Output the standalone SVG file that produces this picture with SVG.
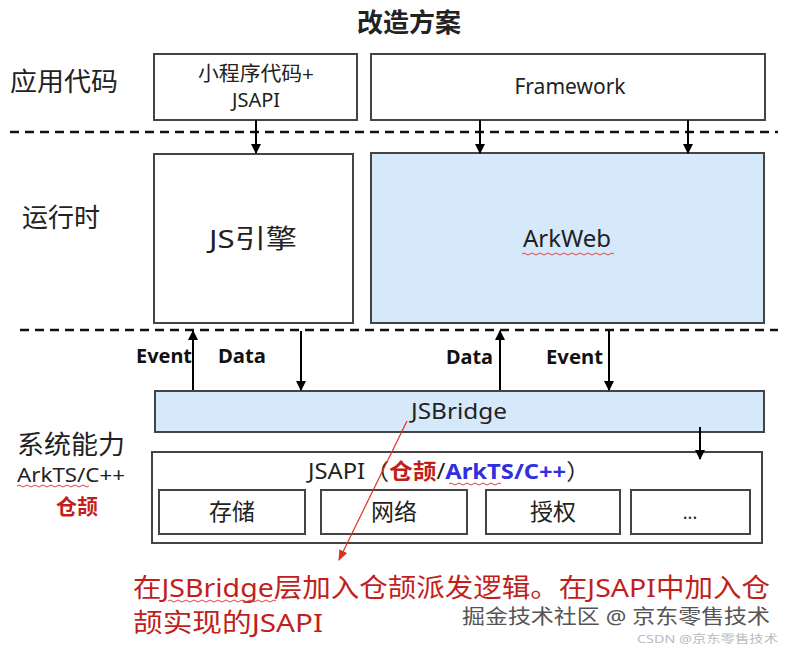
<svg xmlns="http://www.w3.org/2000/svg" width="785" height="647" viewBox="0 0 785 647">
<defs>
<marker id="ah" viewBox="0 0 10 10" refX="9" refY="5" markerWidth="10" markerHeight="10" markerUnits="userSpaceOnUse" orient="auto"><path d="M0,0 L10,5 L0,10 z" fill="#000"/></marker>
<marker id="ahr" viewBox="0 0 10 10" refX="9" refY="5" markerWidth="11" markerHeight="11" markerUnits="userSpaceOnUse" orient="auto"><path d="M0,1 L10,5 L0,9 z" fill="#e03020"/></marker>
<style>
text{font-family:"Noto Sans","Noto Sans CJK SC",sans-serif;fill:#222}
.box{fill:#fff;stroke:#444;stroke-width:2}
.blue{fill:#d6e9fa;stroke:#444;stroke-width:2}
.dash{stroke:#111;stroke-width:2.5;stroke-dasharray:9,6}
.arr{stroke:#000;stroke-width:2;fill:none;marker-end:url(#ah)}
.lbl{font-size:19px;font-weight:bold;fill:#111}
.side{font-size:26px;fill:#222}
.wavy{fill:none;stroke:#e04040;stroke-width:1}
.red{fill:#c21f1c}
</style>
</defs>
<rect width="785" height="647" fill="#fff"/>
<text x="409" y="32" text-anchor="middle" font-size="26" font-weight="bold" fill="#111">改造方案</text>

<g id="layers">
<line class="dash" x1="10" y1="132" x2="778" y2="132"/>
<line class="dash" x1="20" y1="330" x2="778" y2="330"/>
<text class="side" x="10" y="91" textLength="108" lengthAdjust="spacingAndGlyphs">应用代码</text>
<text class="side" x="22" y="227" textLength="78" lengthAdjust="spacingAndGlyphs">运行时</text>
<text class="side" x="17" y="454" textLength="108" lengthAdjust="spacingAndGlyphs">系统能力</text>
<text x="17" y="482" font-size="20" textLength="108" lengthAdjust="spacingAndGlyphs">ArkTS/C++</text>
<path class="wavy" d="M17,486 q2,-2 4,0 t4,0 t4,0 t4,0 t4,0 t4,0 t4,0 t4,0 t4,0 t4,0 t4,0 t4,0 t4,0 t4,0 t4,0 t4,0 t4,0 t4,0"/>
<text x="77" y="514" text-anchor="middle" font-size="21" font-weight="bold" class="red">仓颉</text>
</g>

<g id="miniapp">
<rect class="box" x="154" y="54" width="203" height="66"/>
<text x="256" y="81" text-anchor="middle" font-size="20" textLength="116" lengthAdjust="spacingAndGlyphs">小程序代码+</text>
<text x="256" y="107" text-anchor="middle" font-size="20">JSAPI</text>
</g>
<g id="framework">
<rect class="box" x="371" y="54" width="394" height="66"/>
<text x="570" y="94" text-anchor="middle" font-size="21">Framework</text>
</g>
<g id="jsengine">
<rect class="box" x="154" y="154" width="199" height="169"/>
<text x="253" y="248" text-anchor="middle" font-size="26" textLength="88" lengthAdjust="spacingAndGlyphs">JS引擎</text>
</g>
<g id="arkweb">
<rect class="blue" x="371" y="153" width="393" height="170"/>
<text x="567" y="247" text-anchor="middle" font-size="24">ArkWeb</text>
<path class="wavy" d="M522,254 q2,-2 4,0 t4,0 t4,0 t4,0 t4,0 t4,0 t4,0 t4,0 t4,0 t4,0 t4,0 t4,0 t4,0 t4,0 t4,0 t4,0 t4,0 t4,0 t4,0 t4,0 t4,0 t4,0 t4,0"/>
</g>
<g id="jsbridge">
<rect class="blue" x="155" y="391" width="609" height="41"/>
<text x="411" y="419" font-size="22" textLength="96" lengthAdjust="spacingAndGlyphs">JSBridge</text>
</g>
<g id="jsapi">
<rect class="box" x="152" y="452" width="610" height="91"/>
<text x="308" y="479" font-size="22" textLength="282" lengthAdjust="spacingAndGlyphs"><tspan>JSAPI（</tspan><tspan font-weight="bold" class="red">仓颉</tspan><tspan>/</tspan><tspan font-weight="bold" fill="#3030e0">ArkTS/C++</tspan><tspan>）</tspan></text>
<path class="wavy" d="M449,484 q2,-2 4,0 t4,0 t4,0 t4,0 t4,0 t4,0 t4,0 t4,0 t4,0 t4,0 t4,0 t4,0 t4,0"/>
</g>
<g id="storage"><rect class="box" x="159" y="490" width="146" height="44"/><text x="232" y="520" text-anchor="middle" font-size="23">存储</text></g>
<g id="network"><rect class="box" x="321" y="490" width="146" height="44"/><text x="394" y="520" text-anchor="middle" font-size="23">网络</text></g>
<g id="auth"><rect class="box" x="486" y="490" width="134" height="44"/><text x="553" y="520" text-anchor="middle" font-size="23">授权</text></g>
<g id="more"><rect class="box" x="631" y="490" width="119" height="44"/><text x="690" y="519" text-anchor="middle" font-size="18">...</text></g>

<g id="connectors">
<line class="arr" x1="256" y1="120" x2="256" y2="153"/>
<line class="arr" x1="480" y1="120" x2="480" y2="153"/>
<line class="arr" x1="688" y1="120" x2="688" y2="153"/>
<line class="arr" x1="193" y1="390" x2="193" y2="331"/>
<line class="arr" x1="301" y1="331" x2="301" y2="390"/>
<line class="arr" x1="500" y1="390" x2="500" y2="331"/>
<line class="arr" x1="609" y1="331" x2="609" y2="390"/>
<line class="arr" x1="700" y1="427" x2="700" y2="459"/>
<line x1="407" y1="421" x2="339" y2="560" stroke="#e03020" stroke-width="1.2" marker-end="url(#ahr)"/>
<text class="lbl" x="136" y="363" textLength="56" lengthAdjust="spacingAndGlyphs">Event</text>
<text class="lbl" x="218" y="363" textLength="48" lengthAdjust="spacingAndGlyphs">Data</text>
<text class="lbl" x="446" y="364" textLength="47" lengthAdjust="spacingAndGlyphs">Data</text>
<text class="lbl" x="546" y="364" textLength="57" lengthAdjust="spacingAndGlyphs">Event</text>
</g>

<text x="133" y="597" font-size="26" class="red" textLength="637" lengthAdjust="spacingAndGlyphs">在JSBridge层加入仓颉派发逻辑。在JSAPI中加入仓</text>
<path class="wavy" d="M168,601 q2,-2 4,0 t4,0 t4,0 t4,0 t4,0 t4,0 t4,0 t4,0 t4,0 t4,0 t4,0 t4,0 t4,0 t4,0 t4,0 t4,0 t4,0 t4,0 t4,0 t4,0 t4,0 t4,0 t4,0 t4,0 t4,0 t4,0 t4,0"/>
<text x="133" y="632" font-size="26" class="red" textLength="190" lengthAdjust="spacingAndGlyphs">颉实现的JSAPI</text>
<text x="462" y="624" font-size="20" textLength="308" lengthAdjust="spacingAndGlyphs" style="fill:#555;stroke:#fff;stroke-width:0.6;paint-order:stroke">掘金技术社区 @ 京东零售技术</text>
<text x="637" y="643" font-size="11" textLength="141" lengthAdjust="spacingAndGlyphs" style="fill:#bbb">CSDN @京东零售技术</text>
</svg>
